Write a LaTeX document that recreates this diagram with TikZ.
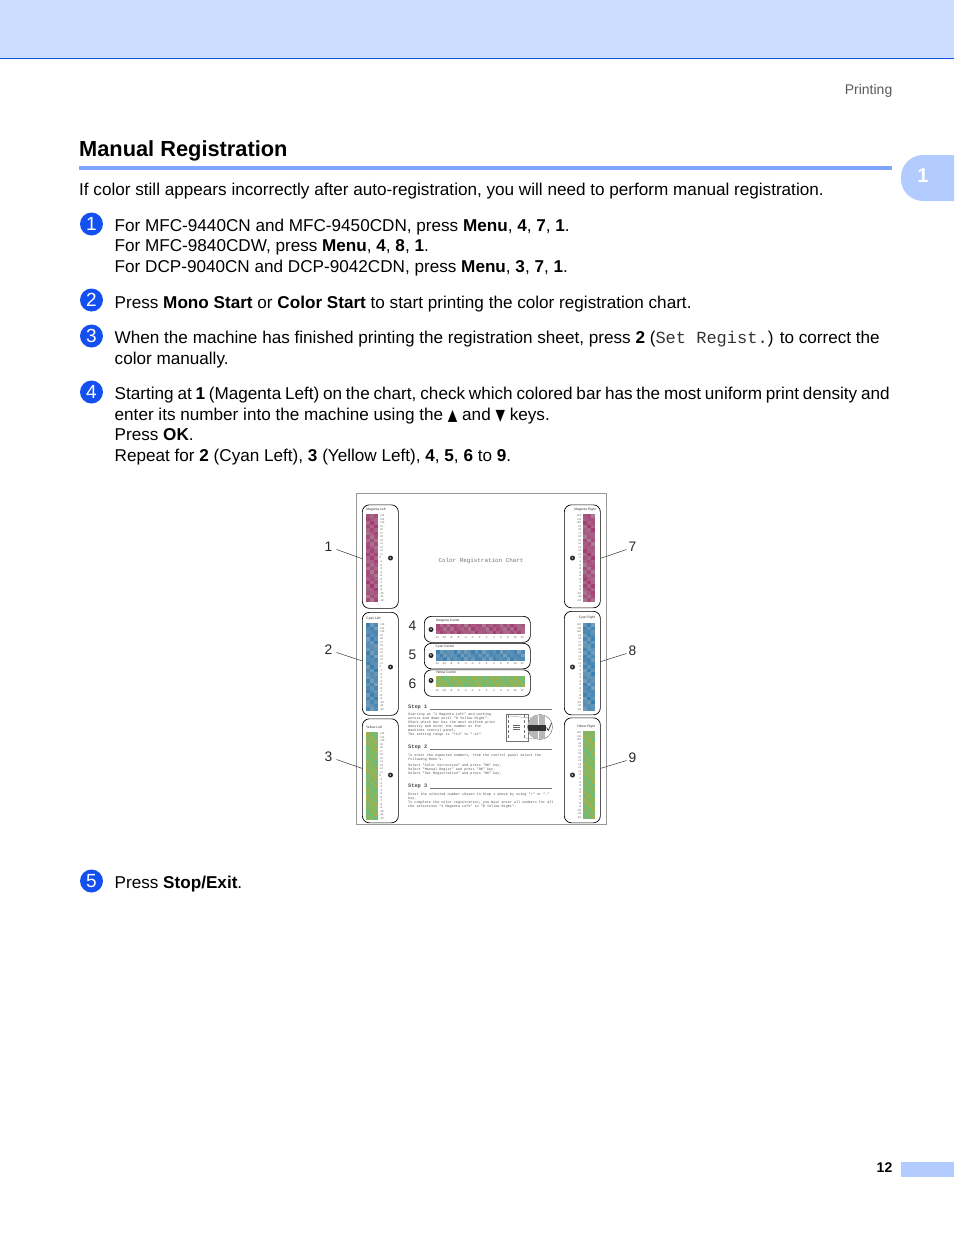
\documentclass[tikz,border=0pt]{standalone}
\usepackage{fontspec}
\setmainfont{Liberation Sans}
\setmonofont{Liberation Mono}
\newfontfamily\symfont{DejaVu Sans}
\usetikzlibrary{positioning}
\definecolor{bandcol}{HTML}{CCDDFF}
\definecolor{linecol}{HTML}{1A50E0}
\definecolor{rulecol}{HTML}{7FA6FA}
\definecolor{tabcol}{HTML}{B3CCFF}
\definecolor{stepcol}{HTML}{1450F0}
\definecolor{magcol1}{HTML}{A42C6C}
\definecolor{magcol2}{HTML}{AC949C}
\definecolor{cyancol1}{HTML}{2878B0}
\definecolor{cyancol2}{HTML}{94ACBC}
\definecolor{yelcol1}{HTML}{B4AC3C}
\definecolor{yelcol2}{HTML}{4CC494}
\definecolor{chartgray}{gray}{0.6}
% one patch of shaded cells: x, y, cols, rows, cell w, cell h, colour a, colour b, seed
\newcommand{\shadebar}[9]{
	\foreach \i in {1,...,#4} {
		\foreach \j in {1,...,#3} {
			\pgfmathtruncatemacro{\mixval}{56+22*sin(\i*137+\j*211+#9)+10*cos(\i*41-\j*67)}
			\fill[#7!\mixval!#8] ({#1+(\j-1)*#5},{#2+(\i-1)*#6}) rectangle +(#5,#6);
		}
	}
}
% column of setting numbers beside a tall bar
\newcommand{\numcolumn}[4]{
	\foreach \lab [count=\i] in {+12,+11,+10,+9,+8,+7,+6,+5,+4,+3,+2,+1,0,-1,-2,-3,-4,-5,-6,-7,-8,-9,-10,-11,-12} {
		\node[numtxt,anchor=#3] (#4-\i) at ({#1},{#2+(\i-.5)*3.52}) {\lab};
	}
}
% row of setting numbers under a wide bar
\newcommand{\numrow}[2]{
	\foreach \v [count=\i from 0] in {-12,-10,-8,-6,-4,-2,0,2,4,6,8,10,12} {
		\node[numtxt] (#2-\i) at ({437+\i*7.1},{#1}) {\v};
	}
}

\begin{document}
\begin{tikzpicture}[x=1pt,y=-1pt,
	    bodytxt/.style={anchor=north west,inner sep=0pt,align=left,font=\fontsize{17.13}{20.6}\selectfont},
	    stepnum/.style={circle,fill=stepcol,text=white,minimum size=23pt,inner sep=0pt,font=\fontsize{19}{20}\selectfont},
	    panel/.style={draw=black,line width=.7pt,rounded corners=7pt},
	    bartitle/.style={inner sep=0pt,text=black!80,font=\fontsize{3.3}{3.4}\selectfont},
	    numtxt/.style={inner sep=0pt,text=black!65,font=\fontsize{2.8}{3}\selectfont},
	    bullet/.style={circle,fill=black!85,text=white,minimum size=5pt,inner sep=0pt,font=\fontsize{3}{3}\selectfont\bfseries},
	    calloutnum/.style={inner sep=0pt,text=black!85,font=\fontsize{13.8}{14}\selectfont},
	    callout/.style={line width=.5pt,black!80},
	    steptitle/.style={anchor=west,inner sep=0pt,font=\fontsize{5.3}{6}\selectfont\ttfamily\bfseries,text=black!70},
	    stepline/.style={line width=.5pt,black!55},
	    monotxt/.style={anchor=north west,inner sep=0pt,align=left,text=black!70,font=\fontsize{3.46}{4.05}\selectfont\ttfamily}]
	\useasboundingbox (0,0) rectangle (954,1235);

	% page furniture
	\fill[bandcol] (0,0) rectangle (954,58);
	\draw[linecol,line width=1pt] (0,58.5) -- (954,58.5);
	\node[inner sep=0pt,anchor=base east,text=black!65,font=\fontsize{14}{16}\selectfont] (running) at (892.5,94) {Printing};
	\node[inner sep=0pt,anchor=base west,font=\fontsize{21.8}{24}\selectfont\bfseries] (title) at (79,156.5) {Manual Registration};
	\fill[rulecol] (79,166) rectangle (892,169.5);
	\fill[tabcol] [sharp corners] (954,155) [rounded corners=22pt] -- (901,155) -- (901,201) [sharp corners] -- (954,201) -- cycle;
	\node[inner sep=0pt,text=white,font=\fontsize{20}{22}\selectfont\bfseries] (tabnum) at (923,176) {1};
	\node[inner sep=0pt,anchor=base east,font=\fontsize{14}{16}\selectfont\bfseries] (pagenum) at (892.5,1172) {12};
	\fill[tabcol] (901,1162) rectangle (954,1177);

	% intro and numbered steps
	\node[bodytxt] (intro) at (79,181) {\strut If color still appears incorrectly after auto-registration, you will need to perform manual registration.};
	\node[stepnum] (num1) at (91.5,224) {1};
	\node[bodytxt] (text1) at (114.5,216.6) {\strut For MFC-9440CN and MFC-9450CDN, press \textbf{Menu}, \textbf{4}, \textbf{7}, \textbf{1}.\\For MFC-9840CDW, press \textbf{Menu}, \textbf{4}, \textbf{8}, \textbf{1}.\\For DCP-9040CN and DCP-9042CDN, press \textbf{Menu}, \textbf{3}, \textbf{7}, \textbf{1}.};
	\node[stepnum] (num2) at (91.5,300) {2};
	\node[bodytxt] (text2) at (114.5,293.6) {\strut Press \textbf{Mono Start} or \textbf{Color Start} to start printing the color registration chart.};
	\node[stepnum] (num3) at (91.5,336) {3};
	\node[bodytxt] (text3) at (114.5,329.1) {\strut When the machine has finished printing the registration sheet, press \textbf{2} ({\color{black!80}\ttfamily\fontsize{17}{20.6}\selectfont Set Regist.}) to correct the\\color manually.};
	\node[stepnum] (num4) at (91.5,392) {4};
	\node[bodytxt] (text4) at (114.5,385.1) {\makebox[775pt][s]{\strut Starting at \textbf{1} (Magenta Left) on the chart, check which colored bar has the most uniform print density and}\\enter its number into the machine using the {\symfont\scalebox{.72}[.92]{▲}} and {\symfont\scalebox{.72}[.92]{▼}} keys.\\Press \textbf{OK}.\\Repeat for \textbf{2} (Cyan Left), \textbf{3} (Yellow Left), \textbf{4}, \textbf{5}, \textbf{6} to \textbf{9}.};
	\node[stepnum] (num5) at (91.5,881) {5};
	\node[bodytxt] (text5) at (114.5,873.6) {\strut Press \textbf{Stop/Exit}.};

	% chart sheet
	\draw[chartgray,line width=.8pt] (356.5,493.5) rectangle (606.5,824.5);
	\node[inner sep=0pt,text=black!55,font=\fontsize{5.9}{7}\selectfont\ttfamily] (charttitle) at (481,561) {Color Registration Chart};

	% tall panels
	\foreach \pname/\px/\ptop/\pbot in {pan1/362/504.5/608,pan2/362/612/715,pan3/362/718.5/822.5,pan7/564/504.5/607.5,pan8/564/611/714.5,pan9/564/717.5/822.5} {
		\node[panel,minimum width=36pt,inner sep=0pt,anchor=north west,minimum height={(\pbot-\ptop)*1pt}] (\pname) at (\px,\ptop) {};
	}
	\shadebar{366}{514}{3}{25}{3.9}{3.52}{magcol1}{magcol2}{10}
	\shadebar{366}{623}{3}{25}{3.9}{3.52}{cyancol1}{cyancol2}{70}
	\shadebar{366}{732}{3}{25}{3.9}{3.52}{yelcol1}{yelcol2}{130}
	\shadebar{583}{514}{3}{25}{3.9}{3.52}{magcol1}{magcol2}{200}
	\shadebar{583}{623}{3}{25}{3.9}{3.52}{cyancol1}{cyancol2}{260}
	\shadebar{583}{731}{3}{25}{3.9}{3.52}{yelcol1}{yelcol2}{320}
	\numcolumn{379.5}{514}{west}{numa}
	\numcolumn{379.5}{623}{west}{numb}
	\numcolumn{379.5}{732}{west}{numc}
	\numcolumn{581.5}{514}{east}{numd}
	\numcolumn{581.5}{623}{east}{nume}
	\numcolumn{581.5}{731}{east}{numf}
	\node[bartitle] (tita) at (376,510) {Magenta Left};
	\node[bartitle] (titb) at (373.5,619) {Cyan Left};
	\node[bartitle] (titc) at (374,727.5) {Yellow Left};
	\node[bartitle] (titd) at (585,510) {Magenta Right};
	\node[bartitle] (tite) at (587,618) {Cyan Right};
	\node[bartitle] (titf) at (586,727) {Yellow Right};
	\foreach \bname/\bx/\by/\blab in {bula/390.5/558/1,bulb/390.5/667/2,bulc/390.5/775/3,buld/572.5/558/7,bule/572.5/667/8,bulf/572.5/775/9} {
		\node[bullet] (\bname) at (\bx,\by) {\blab};
	}

	% wide panels
	\foreach \pname/\ptop/\pbot in {pan4/616/642,pan5/643/668.5,pan6/669.5/696} {
		\node[panel,minimum width=106pt,inner sep=0pt,anchor=north west,minimum height={(\pbot-\ptop)*1pt}] (\pname) at (424,\ptop) {};
	}
	\shadebar{436}{623.5}{25}{3}{3.54}{3.6}{magcol1}{magcol2}{40}
	\shadebar{436}{650}{25}{3}{3.54}{3.6}{cyancol1}{cyancol2}{100}
	\shadebar{436}{676}{25}{3}{3.54}{3.6}{yelcol1}{yelcol2}{160}
	\numrow{638}{numg}
	\numrow{664}{numh}
	\numrow{690.5}{numi}
	\node[bartitle] (titg) at (448,620.5) {Magenta Center};
	\node[bartitle] (tith) at (445,646.5) {Cyan Center};
	\node[bartitle] (titi) at (446,672.5) {Yellow Center};
	\node[bullet] (bulg) at (431,629.5) {4};
	\node[bullet] (bulh) at (431,655.5) {5};
	\node[bullet] (buli) at (431,680.5) {6};

	% callout numbers and their leaders
	\node[calloutnum] (lab1) at (328.5,546.5) {1};
	\node[calloutnum] (lab2) at (328.5,649.5) {2};
	\node[calloutnum] (lab3) at (328.5,756.5) {3};
	\node[calloutnum] (lab4) at (412.5,625.5) {4};
	\node[calloutnum] (lab5) at (412.5,654.5) {5};
	\node[calloutnum] (lab6) at (412.5,683.5) {6};
	\node[calloutnum] (lab7) at (632.5,546.5) {7};
	\node[calloutnum] (lab8) at (632.5,650.5) {8};
	\node[calloutnum] (lab9) at (632.5,757.5) {9};
	\foreach \ln/\pn/\dy in {lab1/pan1/2,lab2/pan2/-3,lab3/pan3/-2.5} {
		\draw[callout] ([shift={(4,3)}]\ln.east) -- ([shift={(0,\dy)}]\pn.west);
	}
	\foreach \ln/\pn/\dy in {lab7/pan7/2,lab8/pan8/-1.5,lab9/pan9/-2} {
		\draw[callout] ([shift={(-2,3)}]\ln.west) -- ([shift={(0,\dy)}]\pn.east);
	}

	% instructions on the sheet
	\node[steptitle] (stepa) at (408,707.5) {Step 1};
	\coordinate (stepaend) at (552,709);
	\draw[stepline] (430,709) -- (stepaend);
	\node[monotxt] (stepatxt) at (408,713) {Starting at "1 Magenta Left" and working\\across and down until "9 Yellow Right".\\Check which bar has the most uniform print\\density and enter the number at the\\machines control panel;\\The setting range is "+12" to "-12".};
	\node[steptitle] (stepb) at (408,747.5) {Step 2};
	\coordinate (stepbend) at (552,749);
	\draw[stepline] (430,749) -- (stepbend);
	\node[monotxt] (stepbtxt) at (408,753.5) {To enter the expected numbers, from the control panel select the\\following Menu's.\\[2pt]Select "Color Correction" and press "OK" key.\\Select "Manual Regist" and press "OK" key.\\Select "Set Registration" and press "OK" key.};
	\node[steptitle] (stepc) at (408,786.5) {Step 3};
	\coordinate (stepcend) at (552,788);
	\draw[stepline] (430,788) -- (stepcend);
	\node[monotxt] (stepctxt) at (408,792.5) {Enter the selected number chosen in Step 1 above by using "+" or "-"\\key.\\To complete the color registration, you must enter all numbers for all\\the selections "1 Magenta Left" to "9 Yellow Right".};

	% small sketch of a bar under the loupe
	\node[draw=black!55,line width=.4pt,inner sep=0pt,minimum width=21.5pt,minimum height=27pt,anchor=north west] (sheet) at (506,713.5) {};
	\foreach \sy in {0,...,4} {
		\draw[black!55,line width=.4pt] (508.5,{715+\sy*5}) -- +(0,3);
		\draw[black!55,line width=.4pt] (524.5,{715+\sy*5}) -- +(0,3);
	}
	\foreach \sy in {725,727,729} {
		\draw[black!60,line width=.6pt] (513,\sy) -- (520,\sy);
	}
	\fill[white] (540,727) circle (12.5);
	\draw[black!50,line width=.3pt] (510,716) -- (531,718);
	\draw[black!50,line width=.3pt] (525,738) -- (535,739);
	\node[circle,draw=black!60,line width=.4pt,inner sep=0pt,minimum size=25pt] (loupe) at (540,727) {};
	\begin{scope}
		\clip (loupe) circle (12.3);
		\foreach \lx in {0,...,15} {
			\fill[black!28] ({527.5+\lx*1.1},714) rectangle +(.6,26);
		}
		\fill[black!80] (528,724.5) rectangle (546,731);
	\end{scope}
	\draw[black!80,line width=.7pt] (546.5,727.5) -- (548.3,730.5) -- (551.5,723);
\end{tikzpicture}
\end{document}
